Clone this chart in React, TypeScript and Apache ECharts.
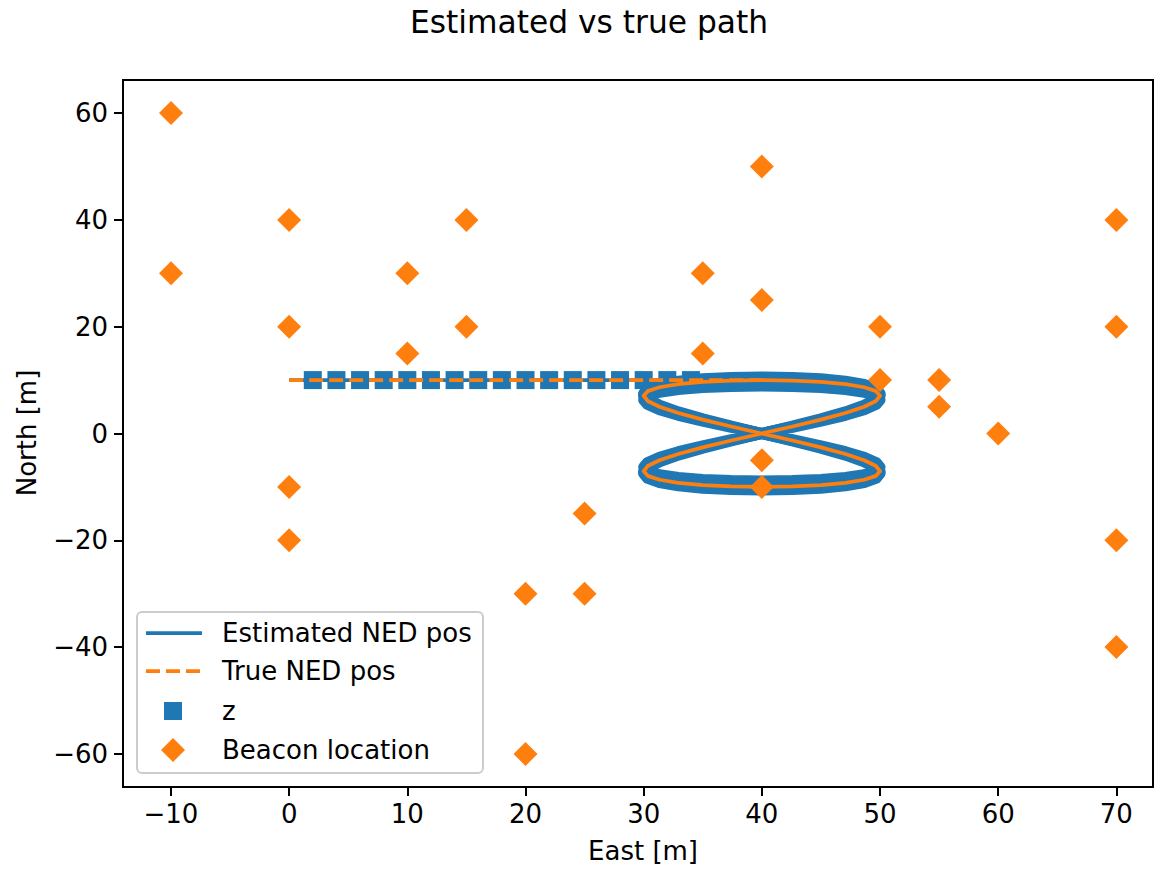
import React, { useEffect, useRef } from "react";
import * as echarts from "echarts";

const xTicks = [-10, 0, 10, 20, 30, 40, 50, 60, 70];
const yTicks = [-60, -40, -20, 0, 20, 40, 60];

const beaconEast = [-10, -10, 0, 0, 0, 0, 10, 10, 15, 15, 20, 20, 25, 25, 35, 35, 40, 40, 40, 40, 50, 50, 55, 55, 60, 70, 70, 70, 70];
const beaconNorth = [60, 30, 40, 20, -10, -20, 30, 15, 40, 20, -30, -60, -15, -30, 30, 15, 50, 25, -5, -10, 20, 10, 10, 5, 0, 40, 20, -20, -40];

const zEast = [2, 4, 6, 8, 10, 12, 14, 16, 18, 20, 22, 24, 26, 28, 30, 32, 34];
const zNorth = [10, 10, 10, 10, 10, 10, 10, 10, 10, 10, 10, 10, 10, 10, 10, 10, 10];

const approachEast = [0, 40];
const approachNorth = [10, 10];

// True figure-eight loop (East, North)
const loopEast = [
  40, 42.59, 45, 47.07, 48.66, 49.66, 50, 49.66, 48.66, 47.07, 45, 42.59,
  40, 37.41, 35, 32.93, 31.34, 30.34, 30, 30.34, 31.34, 32.93, 35, 37.41,
  40, 42.59, 45, 47.07, 48.66, 49.66, 50, 49.66, 48.66, 47.07, 45, 42.59,
  40, 37.41, 35, 32.93, 31.34, 30.34, 30, 30.34, 31.34, 32.93, 35, 37.41, 40,
];
const loopNorth = [
  10, 9.91, 9.66, 9.24, 8.66, 7.93, 7.07, 6.09, 5, 3.83, 2.59, 1.31,
  0, -1.31, -2.59, -3.83, -5, -6.09, -7.07, -7.93, -8.66, -9.24, -9.66, -9.91,
  -10, -9.91, -9.66, -9.24, -8.66, -7.93, -7.07, -6.09, -5, -3.83, -2.59, -1.31,
  0, 1.31, 2.59, 3.83, 5, 6.09, 7.07, 7.93, 8.66, 9.24, 9.66, 9.91, 10,
];

// Estimated laps: widest and narrowest laps of the blue band (North), same East as loopEast
const estOuterNorth = [
  10.6, 10.5, 10.24, 9.79, 9.18, 8.41, 7.49, 6.46, 5.3, 4.06, 2.75, 1.39,
  0, -1.39, -2.75, -4.06, -5.3, -6.46, -7.49, -8.41, -9.18, -9.79, -10.24, -10.5,
  -10.6, -10.5, -10.24, -9.79, -9.18, -8.41, -7.49, -6.46, -5.3, -4.06, -2.75, -1.39,
  0, 1.39, 2.75, 4.06, 5.3, 6.46, 7.49, 8.41, 9.18, 9.79, 10.24, 10.5, 10.6,
];
const estInnerNorth = [
  8.9, 8.82, 8.6, 8.22, 7.71, 7.06, 6.29, 5.42, 4.45, 3.41, 2.31, 1.17,
  0, -1.17, -2.31, -3.41, -4.45, -5.42, -6.29, -7.06, -7.71, -8.22, -8.6, -8.82,
  -8.9, -8.82, -8.6, -8.22, -7.71, -7.06, -6.29, -5.42, -4.45, -3.41, -2.31, -1.17,
  0, 1.17, 2.31, 3.41, 4.45, 5.42, 6.29, 7.06, 7.71, 8.22, 8.6, 8.82, 8.9,
];

const BLUE = "#1f77b4";
const ORANGE = "#ff7f0e";
const FONT = "DejaVu Sans";

const pairs = (xs: number[], ys: number[]) => xs.map((x, i) => [x, ys[i]]);
const fmt = (v: number) => String(v).replace("-", "\u2212");

export default function App() {
  const ref = useRef<HTMLDivElement>(null);
  useEffect(() => {
    document.body.style.margin = "0";
    const chart = echarts.init(ref.current!, null, { renderer: "svg" });
    const legendRows = [633, 671, 711, 750];
    const legendLabels = ["Estimated NED pos", "True NED pos", "z", "Beacon location"];
    const estLap = (north: number[], name: string) => ({
      name,
      type: "line",
      showSymbol: false,
      symbol: "none",
      lineStyle: { color: BLUE, width: 11, cap: "round", join: "round" },
      data: pairs(loopEast, north),
      z: 3,
    });
    chart.setOption({
      animation: false,
      grid: {
        left: 123,
        top: 80,
        width: 1030,
        height: 707,
        show: true,
        borderColor: "#000",
        borderWidth: 2,
        backgroundColor: "transparent",
      },
      xAxis: {
        type: "value",
        min: -14.06,
        max: 73.1,
        splitLine: { show: false },
        axisLine: { show: true, onZero: false, lineStyle: { color: "#000", width: 2 } },
        axisTick: { show: true, length: 9, lineStyle: { color: "#000", width: 2 }, customValues: xTicks },
        axisLabel: {
          customValues: xTicks,
          formatter: (v: number) => fmt(v),
          color: "#000",
          fontFamily: FONT,
          fontSize: 26,
          margin: 14,
        },
      },
      yAxis: {
        type: "value",
        min: -66.2,
        max: 66.2,
        splitLine: { show: false },
        axisLine: { show: true, onZero: false, lineStyle: { color: "#000", width: 2 } },
        axisTick: { show: true, length: 9, lineStyle: { color: "#000", width: 2 }, customValues: yTicks },
        axisLabel: {
          customValues: yTicks,
          formatter: (v: number) => fmt(v),
          color: "#000",
          fontFamily: FONT,
          fontSize: 26,
          margin: 15,
        },
      },
      series: [
        {
          name: "z",
          type: "scatter",
          symbol: "rect",
          symbolSize: 18,
          itemStyle: { color: BLUE, opacity: 1 },
          data: pairs(zEast, zNorth),
          z: 2,
        },
        {
          name: "Estimated NED pos approach",
          type: "line",
          showSymbol: false,
          symbol: "none",
          lineStyle: { color: BLUE, width: 3.75 },
          data: pairs(approachEast, approachNorth),
          z: 3,
        },
        estLap(estOuterNorth, "Estimated NED pos outer"),
        estLap(loopNorth, "Estimated NED pos"),
        estLap(estInnerNorth, "Estimated NED pos inner"),
        {
          name: "True NED pos approach",
          type: "line",
          showSymbol: false,
          symbol: "none",
          lineStyle: { color: ORANGE, width: 3.75, type: [14, 6] },
          data: pairs(approachEast, approachNorth),
          z: 4,
        },
        {
          name: "True NED pos",
          type: "line",
          showSymbol: false,
          symbol: "none",
          lineStyle: { color: ORANGE, width: 3.75, join: "round" },
          data: pairs(loopEast, loopNorth),
          z: 4,
        },
        {
          name: "Beacon location",
          type: "scatter",
          symbol: "diamond",
          symbolSize: 24,
          itemStyle: { color: ORANGE, opacity: 1 },
          data: pairs(beaconEast, beaconNorth),
          z: 5,
        },
      ],
      graphic: [
        {
          type: "text",
          x: 589,
          y: 22,
          style: { text: "Estimated vs true path", font: `31.3px "${FONT}"`, fill: "#000", textAlign: "center", textVerticalAlign: "middle" },
        },
        {
          type: "text",
          x: 643,
          y: 851,
          style: { text: "East [m]", font: `26px "${FONT}"`, fill: "#000", textAlign: "center", textVerticalAlign: "middle" },
        },
        {
          type: "text",
          x: 27,
          y: 433,
          rotation: Math.PI / 2,
          style: { text: "North [m]", font: `26px "${FONT}"`, fill: "#000", textAlign: "center", textVerticalAlign: "middle" },
        },
        {
          type: "rect",
          z: 100,
          shape: { x: 137, y: 612, width: 346, height: 161, r: 5 },
          style: { fill: "rgba(255,255,255,0.8)", stroke: "#cccccc", lineWidth: 2 },
        },
        {
          type: "line",
          z: 101,
          shape: { x1: 146, y1: legendRows[0], x2: 202, y2: legendRows[0] },
          style: { stroke: BLUE, lineWidth: 3.75 },
        },
        {
          type: "line",
          z: 101,
          shape: { x1: 146, y1: legendRows[1], x2: 202, y2: legendRows[1] },
          style: { stroke: ORANGE, lineWidth: 3.75, lineDash: [14, 6] },
        },
        {
          type: "rect",
          z: 101,
          shape: { x: 164, y: legendRows[2] - 9, width: 18, height: 18 },
          style: { fill: BLUE },
        },
        {
          type: "polygon",
          z: 101,
          shape: {
            points: [
              [173, legendRows[3] - 12],
              [185, legendRows[3]],
              [173, legendRows[3] + 12],
              [161, legendRows[3]],
            ],
          },
          style: { fill: ORANGE },
        },
        ...legendLabels.map((t, i) => ({
          type: "text",
          z: 101,
          x: 222,
          y: legendRows[i],
          style: { text: t, font: `26px "${FONT}"`, fill: "#000", textAlign: "left", textVerticalAlign: "middle" },
        })),
      ],
    });
    return () => chart.dispose();
  }, []);
  return <div ref={ref} style={{ width: 1155, height: 870 }} />;
}
